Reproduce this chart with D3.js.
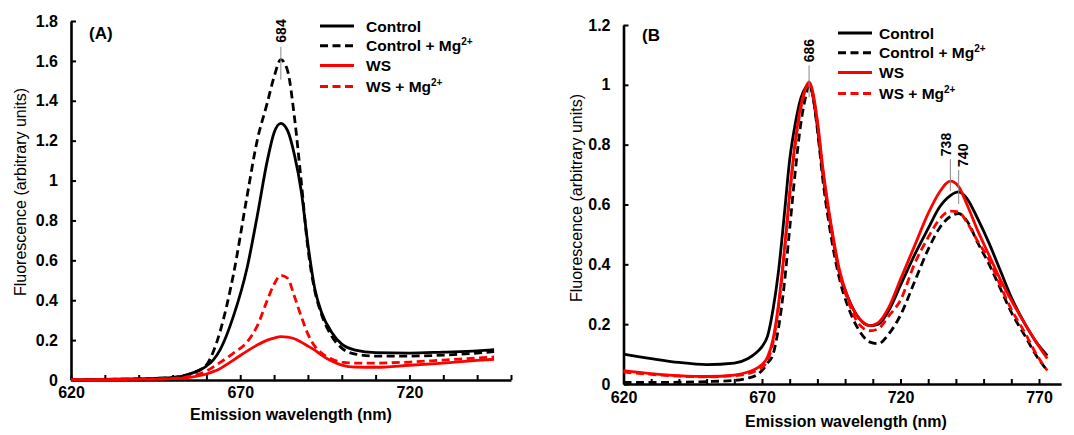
<!DOCTYPE html>
<html>
<head>
<meta charset="utf-8">
<script src="https://d3js.org/d3.v7.min.js"></script>
<style>
  body { margin:0; background:#fff; }
  svg text { font-family: Arial, "Liberation Sans", sans-serif; }
</style>
</head>
<body>
<script>
// ---- panel A data (emission spectra, nm) ----
var wavelengthsA = [620, 630, 640, 650, 655, 660, 662, 664, 668, 672, 675, 678, 680, 682, 684, 686, 688, 690, 692, 694, 697, 700, 704, 710, 720, 730, 740, 745];
var controlA   = [0, 0.003, 0.006, 0.012, 0.03, 0.07, 0.1, 0.15, 0.32, 0.56, 0.82, 1.1, 1.24, 1.287, 1.25, 1.13, 0.95, 0.68, 0.46, 0.34, 0.24, 0.18, 0.15, 0.137, 0.135, 0.14, 0.146, 0.152];
var controlMgA = [0, 0.003, 0.006, 0.013, 0.03, 0.075, 0.14, 0.24, 0.53, 0.92, 1.2, 1.39, 1.52, 1.606, 1.55, 1.32, 1.0, 0.66, 0.45, 0.33, 0.22, 0.16, 0.13, 0.12, 0.12, 0.125, 0.135, 0.142];
var wsA        = [0, 0.002, 0.004, 0.007, 0.013, 0.03, 0.042, 0.057, 0.1, 0.145, 0.175, 0.2, 0.21, 0.217, 0.215, 0.207, 0.19, 0.17, 0.15, 0.125, 0.095, 0.075, 0.065, 0.064, 0.074, 0.085, 0.098, 0.104];
var wsMgA      = [0, 0.002, 0.004, 0.008, 0.018, 0.045, 0.065, 0.087, 0.135, 0.19, 0.27, 0.4, 0.48, 0.525, 0.51, 0.42, 0.32, 0.23, 0.17, 0.135, 0.105, 0.09, 0.085, 0.085, 0.09, 0.1, 0.11, 0.116];

// ---- panel B data ----
var wavelengthsB = [620, 630, 640, 650, 660, 665, 668, 670, 672, 674, 676, 678, 680, 682, 684, 686, 687, 688, 690, 692, 695, 698, 701, 705, 709, 712, 716, 720, 725, 730, 734, 738, 741, 744, 748, 752, 756, 760, 765, 769, 773];
var controlB   = [0.1, 0.085, 0.072, 0.065, 0.07, 0.085, 0.105, 0.125, 0.16, 0.25, 0.38, 0.56, 0.75, 0.87, 0.955, 0.995, 1.005, 0.98, 0.86, 0.7, 0.52, 0.37, 0.29, 0.22, 0.195, 0.2, 0.25, 0.33, 0.43, 0.52, 0.59, 0.63, 0.642, 0.62, 0.55, 0.47, 0.38, 0.29, 0.2, 0.14, 0.095];
var controlMgB = [0.005, 0.005, 0.006, 0.008, 0.012, 0.02, 0.03, 0.045, 0.07, 0.1, 0.19, 0.33, 0.52, 0.71, 0.87, 0.97, 1.0, 0.98, 0.85, 0.68, 0.49, 0.35, 0.26, 0.18, 0.14, 0.135, 0.17, 0.23, 0.34, 0.45, 0.52, 0.56, 0.57, 0.545, 0.47, 0.4, 0.32, 0.24, 0.16, 0.095, 0.045];
var wsB        = [0.045, 0.035, 0.028, 0.025, 0.03, 0.04, 0.052, 0.065, 0.09, 0.15, 0.27, 0.44, 0.64, 0.81, 0.93, 0.995, 1.01, 0.99, 0.88, 0.72, 0.53, 0.38, 0.29, 0.22, 0.195, 0.205, 0.26, 0.35, 0.46, 0.57, 0.64, 0.678, 0.66, 0.6, 0.51, 0.43, 0.35, 0.28, 0.2, 0.14, 0.085];
var wsMgB      = [0.04, 0.032, 0.026, 0.024, 0.028, 0.035, 0.045, 0.055, 0.08, 0.14, 0.26, 0.43, 0.63, 0.8, 0.92, 0.99, 1.0, 0.98, 0.87, 0.71, 0.52, 0.37, 0.28, 0.2, 0.178, 0.185, 0.23, 0.28, 0.4, 0.49, 0.55, 0.578, 0.575, 0.54, 0.475, 0.415, 0.33, 0.25, 0.17, 0.1, 0.045];

var seriesNames = ["Control", "Control + Mg", "WS", "WS + Mg"];
var seriesColors = ["#000", "#000", "#ff0000", "#ff0000"];
var seriesDashed = [false, true, false, true];

var yTicksA = [0, 0.2, 0.4, 0.6, 0.8, 1, 1.2, 1.4, 1.6, 1.8];
var yTicksB = [0, 0.2, 0.4, 0.6, 0.8, 1, 1.2];
var xLabelsA = [620, 670, 720];
var xLabelsB = [620, 670, 720, 770];

// peak labels: text, series index, wavelength window to search
var peaksA = [{text: "684", s: 1, lo: 660, hi: 700, dx: 0, up: 13, down: 20, gap: 17}];
var peaksB = [
  {text: "686", s: 0, lo: 660, hi: 700, dx: 0, up: 18, down: 14, gap: 21},
  {text: "738", s: 2, lo: 720, hi: 760, dx: -4, up: 22, down: 10, gap: 25},
  {text: "740", s: 0, lo: 720, hi: 760, dx: 4, up: 22, down: 12, gap: 25}
];

var width = 1074, height = 435;
var svg = d3.select("body").append("svg")
    .attr("width", width)
    .attr("height", height);

function drawPanel(p) {
  var x = d3.scaleLinear().domain(p.xDomain).range(p.xRange);
  var y = d3.scaleLinear().domain(p.yDomain).range(p.yRange);
  var g = svg.append("g");

  var xAxis = d3.axisBottom(x)
      .tickValues(d3.range(620, p.lastTick + 1, 10))
      .tickFormat(function (d) { return p.xLabels.indexOf(d) >= 0 ? d : ""; })
      .tickSizeInner(-5).tickSizeOuter(0).tickPadding(p.xPad);
  var yAxis = d3.axisLeft(y)
      .tickValues(p.yTicks)
      .tickFormat(function (d) { return String(d); })
      .tickSizeInner(-5).tickSizeOuter(0).tickPadding(13);

  var gx = g.append("g")
      .attr("transform", "translate(0," + p.yRange[0] + ")")
      .call(xAxis);
  var gy = g.append("g")
      .attr("transform", "translate(" + p.xRange[0] + ",0)")
      .call(yAxis);
  [gx, gy].forEach(function (a) {
    a.select(".domain").attr("stroke-width", 2.6);
    a.selectAll(".tick line").attr("stroke-width", 2);
    a.selectAll(".tick text").attr("font-size", 16).attr("font-weight", "bold")
        .attr("fill", "#000").attr("font-family", "Arial, 'Liberation Sans', sans-serif");
  });

  var line = d3.line()
      .x(function (d) { return x(d[0]); })
      .y(function (d) { return y(d[1]); })
      .curve(d3.curveMonotoneX);

  p.series.forEach(function (vals, i) {
    var pts = p.wavelengths.map(function (w, j) { return [w, vals[j]]; });
    g.append("path")
        .attr("d", line(pts))
        .attr("fill", "none")
        .attr("stroke", seriesColors[i])
        .attr("stroke-width", 2.8)
        .attr("stroke-dasharray", seriesDashed[i] ? "8,4.5" : null);
  });

  // peak annotations
  p.peaks.forEach(function (pk) {
    var vals = p.series[pk.s];
    var best = -1, bw = 0;
    p.wavelengths.forEach(function (w, j) {
      if (w >= pk.lo && w <= pk.hi && vals[j] > best) { best = vals[j]; bw = w; }
    });
    var px = x(bw), py = y(best);
    g.append("line")
        .attr("x1", px).attr("x2", px)
        .attr("y1", py - pk.up).attr("y2", py + pk.down)
        .attr("stroke", "#888").attr("stroke-width", 1);
    g.append("text")
        .attr("transform", "translate(" + (px + pk.dx) + "," + (py - pk.gap) + ") rotate(-90)")
        .attr("dy", "0.35em")
        .attr("font-size", 14).attr("font-weight", "bold")
        .text(pk.text);
  });

  // legend
  var lg = g.append("g").attr("transform", "translate(" + p.legendX + "," + p.legendY + ")");
  seriesNames.forEach(function (name, i) {
    var row = lg.append("g").attr("transform", "translate(0," + (i * 19.7 + (i == 3 ? 1.5 : 0)) + ")");
    row.append("line")
        .attr("x1", 0).attr("x2", 34)
        .attr("stroke", seriesColors[i]).attr("stroke-width", 3)
        .attr("stroke-dasharray", seriesDashed[i] ? "8,4.5" : null);
    var t = row.append("text")
        .attr("x", p.legendText).attr("dy", "0.36em")
        .attr("font-size", 15.5).attr("font-weight", "bold")
        .text(name);
    if (name.indexOf("Mg") >= 0) {
      t.append("tspan").attr("font-size", 10).attr("dy", -6).text("2+");
    }
  });

  // panel letter
  g.append("text")
      .attr("x", p.letterX).attr("y", p.letterY)
      .attr("font-size", 17).attr("font-weight", "bold")
      .text(p.letter);

  // axis titles
  g.append("text")
      .attr("x", p.xTitleX).attr("y", p.xTitleY)
      .attr("text-anchor", "middle")
      .attr("font-size", 16).attr("font-weight", "bold")
      .text("Emission wavelength (nm)");
  g.append("text")
      .attr("transform", "translate(" + p.yTitleX + "," + p.yTitleY + ") rotate(-90)")
      .attr("text-anchor", "middle").attr("dy", "0.35em")
      .attr("font-size", 16)
      .text("Fluorescence (arbitrary units)");
}

drawPanel({
  wavelengths: wavelengthsA,
  series: [controlA, controlMgA, wsA, wsMgA],
  xDomain: [620, 750], xRange: [71, 511], lastTick: 750, xPad: 7,
  yDomain: [0, 1.8], yRange: [380, 21],
  yTicks: yTicksA, xLabels: xLabelsA, peaks: peaksA,
  legendX: 320, legendY: 26, legendText: 46,
  letter: "(A)", letterX: 89, letterY: 39,
  xTitleX: 291, xTitleY: 420, yTitleX: 20, yTitleY: 192
});

drawPanel({
  wavelengths: wavelengthsB,
  series: [controlB, controlMgB, wsB, wsMgB],
  xDomain: [620, 778], xRange: [623.5, 623.5 + 158 * 2.77], lastTick: 770, xPad: 8,
  yDomain: [0, 1.2], yRange: [384, 25],
  yTicks: yTicksB, xLabels: xLabelsB, peaks: peaksB,
  legendX: 838, legendY: 33, legendText: 41,
  letter: "(B", letterX: 642, letterY: 41,
  xTitleX: 846, xTitleY: 427, yTitleX: 576, yTitleY: 198
});
</script>
</body>
</html>
